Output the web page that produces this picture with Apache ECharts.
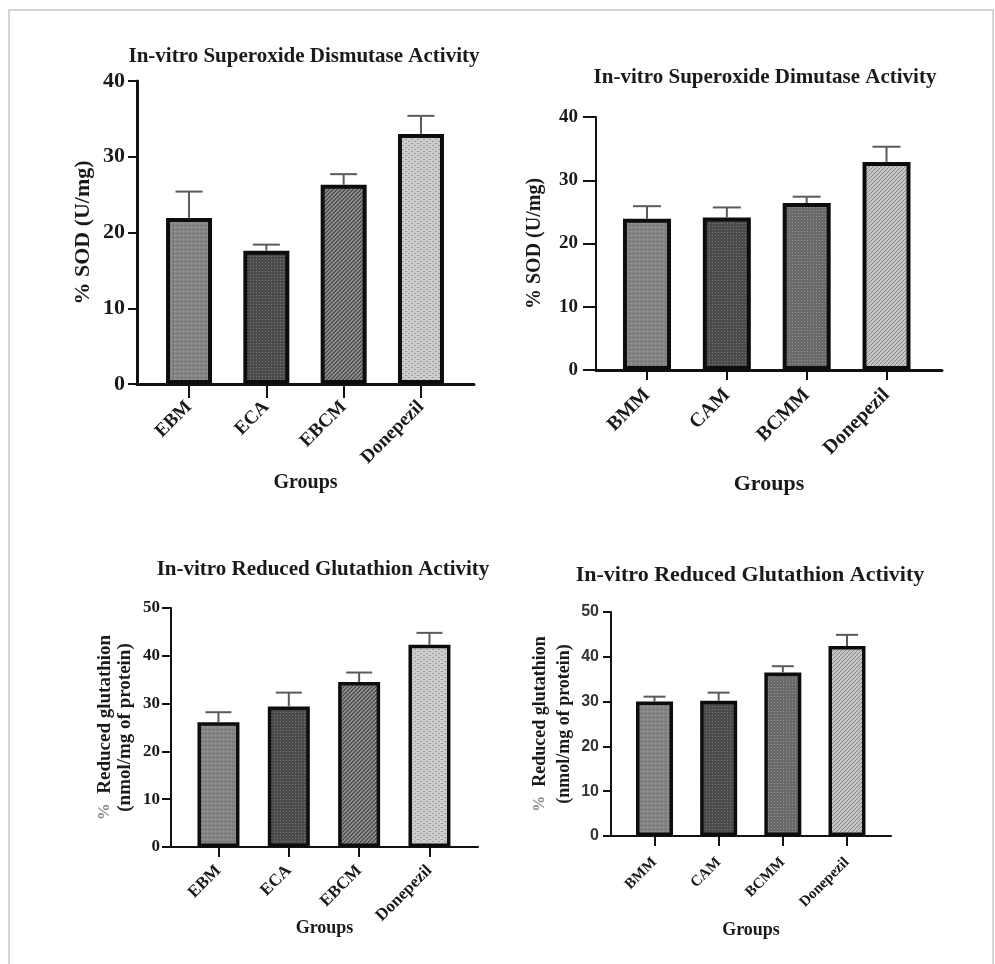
<!DOCTYPE html>
<html>
<head>
<meta charset="utf-8">
<script src="https://cdn.jsdelivr.net/npm/echarts@6/dist/echarts.min.js"></script>
<style>
  html, body { margin: 0; padding: 0; background: #fff; }
  #chart { width: 995px; height: 964px; }
</style>
</head>
<body>
<div id="chart"></div>
<script>
// ---- data ----
const sodGroupsA = ['EBM', 'ECA', 'EBCM', 'Donepezil'];
const sodMeanA   = [21.9, 17.6, 26.3, 33.0];
const sodErrA    = [3.5, 0.8, 1.4, 2.4];

const sodGroupsB = ['BMM', 'CAM', 'BCMM', 'Donepezil'];
const sodMeanB   = [23.9, 24.1, 26.4, 32.9];
const sodErrB    = [2.0, 1.6, 1.0, 2.4];

const gshGroupsA = ['EBM', 'ECA', 'EBCM', 'Donepezil'];
const gshMeanA   = [26.1, 29.4, 34.5, 42.3];
const gshErrA    = [2.1, 2.9, 2.0, 2.5];

const gshGroupsB = ['BMM', 'CAM', 'BCMM', 'Donepezil'];
const gshMeanB   = [30.0, 30.2, 36.5, 42.4];
const gshErrB    = [1.1, 1.8, 1.4, 2.5];

const sodTicks = [0, 10, 20, 30, 40];
const gshTicks = [0, 10, 20, 30, 40, 50];

// ---- fill patterns ----
function pattern(w, h, bg, draw) {
  const c = document.createElement('canvas');
  c.width = w; c.height = h;
  const g = c.getContext('2d');
  g.fillStyle = bg; g.fillRect(0, 0, w, h);
  draw(g);
  return { image: c, repeat: 'repeat' };
}
const dotsMid = pattern(4, 4, '#858585', g => {
  g.fillStyle = '#5e5e5e'; g.fillRect(1, 1, 1, 1);
  g.fillStyle = '#9d9d9d'; g.fillRect(3, 3, 1, 1);
});
const checkDark = pattern(3, 3, '#4b4b4b', g => {
  g.fillStyle = '#7d7d7d'; g.fillRect(1, 1, 1, 1);
});
const stripesDark = pattern(4, 4, '#555555', g => {
  g.fillStyle = '#8c8c8c';
  for (let i = 0; i < 4; i++) { g.fillRect(i, 3 - i, 1, 1); g.fillRect(i, (4 - i) % 4, 1, 1); }
});
const brickLight = pattern(6, 4, '#cdcdcd', g => {
  g.fillStyle = '#9a9a9a'; g.fillRect(0, 1, 2, 1); g.fillRect(3, 3, 2, 1);
});
const dotsDense = pattern(3, 3, '#6a6a6a', g => {
  g.fillStyle = '#939393'; g.fillRect(0, 0, 1, 1);
});
const stripesLight = pattern(4, 4, '#c6c6c6', g => {
  g.fillStyle = '#858585';
  for (let i = 0; i < 4; i++) { g.fillRect(i, 3 - i, 1, 1); }
});
const fillsA = [dotsMid, checkDark, stripesDark, brickLight];
const fillsB = [dotsMid, checkDark, dotsDense, stripesLight];

// ---- helpers ----
const INK = '#1a1a1a';
const SERIF = "'Liberation Serif', 'Times New Roman', serif";
const SANS = "'Liberation Sans', Arial, sans-serif";

function barSeries(idx, means, fills, barWidth, border) {
  return {
    type: 'bar', xAxisIndex: idx, yAxisIndex: idx, barWidth: barWidth, z: 2,
    data: means.map((m, i) => ({ value: [i, m], itemStyle: { color: fills[i] } })),
    itemStyle: { borderColor: '#0d0d0d', borderWidth: border },
    emphasis: { disabled: true }
  };
}

function errorSeries(idx, means, errs, cap) {
  return {
    type: 'custom', xAxisIndex: idx, yAxisIndex: idx, z: 3,
    data: means.map((m, i) => [i, m, m + errs[i]]),
    renderItem: (params, api) => {
      const x = api.value(0);
      const lo = api.coord([x, api.value(1)]);
      const hi = api.coord([x, api.value(2)]);
      const st = { stroke: '#5a5a5a', lineWidth: 2 };
      return {
        type: 'group', children: [
          { type: 'line', shape: { x1: lo[0], y1: lo[1], x2: hi[0], y2: hi[1] }, style: st },
          { type: 'line', shape: { x1: hi[0] - cap / 2, y1: hi[1], x2: hi[0] + cap / 2, y2: hi[1] }, style: st }
        ]
      };
    }
  };
}

function xAxis(idx, groups, cfg) {
  const pos = groups.map((g, i) => i);
  return {
    gridIndex: idx, type: 'value', min: cfg.min, max: cfg.max,
    splitLine: { show: false },
    axisLine: { show: true, onZero: false, lineStyle: { color: '#111', width: cfg.lineW } },
    axisTick: { show: true, customValues: pos, length: cfg.tickLen, lineStyle: { color: '#111', width: 2 } },
    axisLabel: {
      customValues: pos, rotate: 45, margin: cfg.labelMargin,
      formatter: v => groups[Math.round(v)],
      color: INK, fontFamily: SERIF, fontWeight: 'bold', fontSize: cfg.labelSize
    },
    name: 'Groups', nameLocation: 'middle', nameGap: cfg.nameGap, nameMoveOverlap: false,
    nameTextStyle: { color: INK, fontFamily: SERIF, fontWeight: 'bold', fontSize: cfg.nameSize }
  };
}

function yAxis(idx, ticks, cfg) {
  return {
    gridIndex: idx, type: 'value',
    min: ticks[0], max: ticks[ticks.length - 1], interval: ticks[1] - ticks[0],
    splitLine: { show: false },
    axisLine: { show: true, onZero: false, lineStyle: { color: '#111', width: cfg.lineW } },
    axisTick: { show: true, length: cfg.tickLen, lineStyle: { color: '#111', width: 2 } },
    axisLabel: {
      margin: cfg.labelMargin, color: cfg.labelColor || INK,
      fontFamily: cfg.labelFont || SERIF, fontWeight: 'bold', fontSize: cfg.labelSize
    },
    name: cfg.name, nameLocation: 'middle', nameRotate: 90, nameGap: cfg.nameGap, nameMoveOverlap: false,
    nameTextStyle: {
      color: INK, fontFamily: SERIF, fontWeight: 'bold', fontSize: cfg.nameSize,
      lineHeight: cfg.nameLine || cfg.nameSize,
      rich: { p: { color: '#8a8a8a', fontFamily: SERIF, fontWeight: 'bold', fontSize: cfg.nameSize - 2 } }
    }
  };
}

function title(text, x, y, size) {
  return {
    type: 'text', x: x, y: y,
    style: {
      text: text, align: 'center', verticalAlign: 'middle',
      fill: INK, font: 'bold ' + size + 'px ' + SERIF
    }
  };
}

const chart = echarts.init(document.getElementById('chart'));
chart.setOption({
  animation: false,
  backgroundColor: '#fff',
  grid: [
    { left: 137, top: 81,  width: 337, height: 303 },
    { left: 596, top: 117, width: 346, height: 253 },
    { left: 171, top: 608, width: 307, height: 239 },
    { left: 611, top: 612, width: 280, height: 224 }
  ],
  xAxis: [
    xAxis(0, sodGroupsA, { min: -0.673, max: 3.686, lineW: 3, tickLen: 14, labelMargin: 20, labelSize: 19, nameGap: 89, nameSize: 20 }),
    xAxis(1, sodGroupsB, { min: -0.639, max: 3.695, lineW: 3, tickLen: 10, labelMargin: 22, labelSize: 20, nameGap: 103, nameSize: 22 }),
    xAxis(2, gshGroupsA, { min: -0.675, max: 3.690, lineW: 2, tickLen: 10, labelMargin: 21, labelSize: 17, nameGap: 72, nameSize: 18 }),
    xAxis(3, gshGroupsB, { min: -0.678, max: 3.686, lineW: 2, tickLen: 10, labelMargin: 24, labelSize: 15, nameGap: 85, nameSize: 18 })
  ],
  yAxis: [
    yAxis(0, sodTicks, { lineW: 3, tickLen: 9,  labelMargin: 12, labelSize: 22, name: '% SOD (U/mg)', nameGap: 43, nameSize: 22 }),
    yAxis(1, sodTicks, { lineW: 2, tickLen: 13, labelMargin: 18, labelSize: 19, name: '% SOD (U/mg)', nameGap: 51, nameSize: 20 }),
    yAxis(2, gshTicks, { lineW: 2, tickLen: 9,  labelMargin: 11, labelSize: 17, name: '{p|%}  Reduced glutathion\n(nmol/mg of protein)', nameGap: 36, nameSize: 19, nameLine: 20 }),
    yAxis(3, gshTicks, { lineW: 2, tickLen: 8,  labelMargin: 12, labelSize: 16, labelFont: SANS, labelColor: '#333', name: '{p|%}  Reduced glutathion\n(nmol/mg of protein)', nameGap: 35, nameSize: 18, nameLine: 24 })
  ],
  series: [
    barSeries(0, sodMeanA, fillsA, 46, 4), errorSeries(0, sodMeanA, sodErrA, 27),
    barSeries(1, sodMeanB, fillsB, 48, 4), errorSeries(1, sodMeanB, sodErrB, 28),
    barSeries(2, gshMeanA, fillsA, 42, 3.5), errorSeries(2, gshMeanA, gshErrA, 26),
    barSeries(3, gshMeanB, fillsB, 37, 3.5), errorSeries(3, gshMeanB, gshErrB, 22)
  ],
  graphic: [
    { type: 'polyline', shape: { points: [[9, 964], [9, 10], [993, 10], [993, 964]] }, style: { stroke: '#d4d4d4', lineWidth: 2, fill: null } },
    title('In-vitro Superoxide Dismutase Activity', 304, 57, 21),
    title('In-vitro Superoxide Dimutase Activity', 765, 78, 21),
    title('In-vitro Reduced Glutathion Activity', 323, 570, 21),
    title('In-vitro Reduced Glutathion Activity', 750, 575, 22)
  ]
});
</script>
</body>
</html>
